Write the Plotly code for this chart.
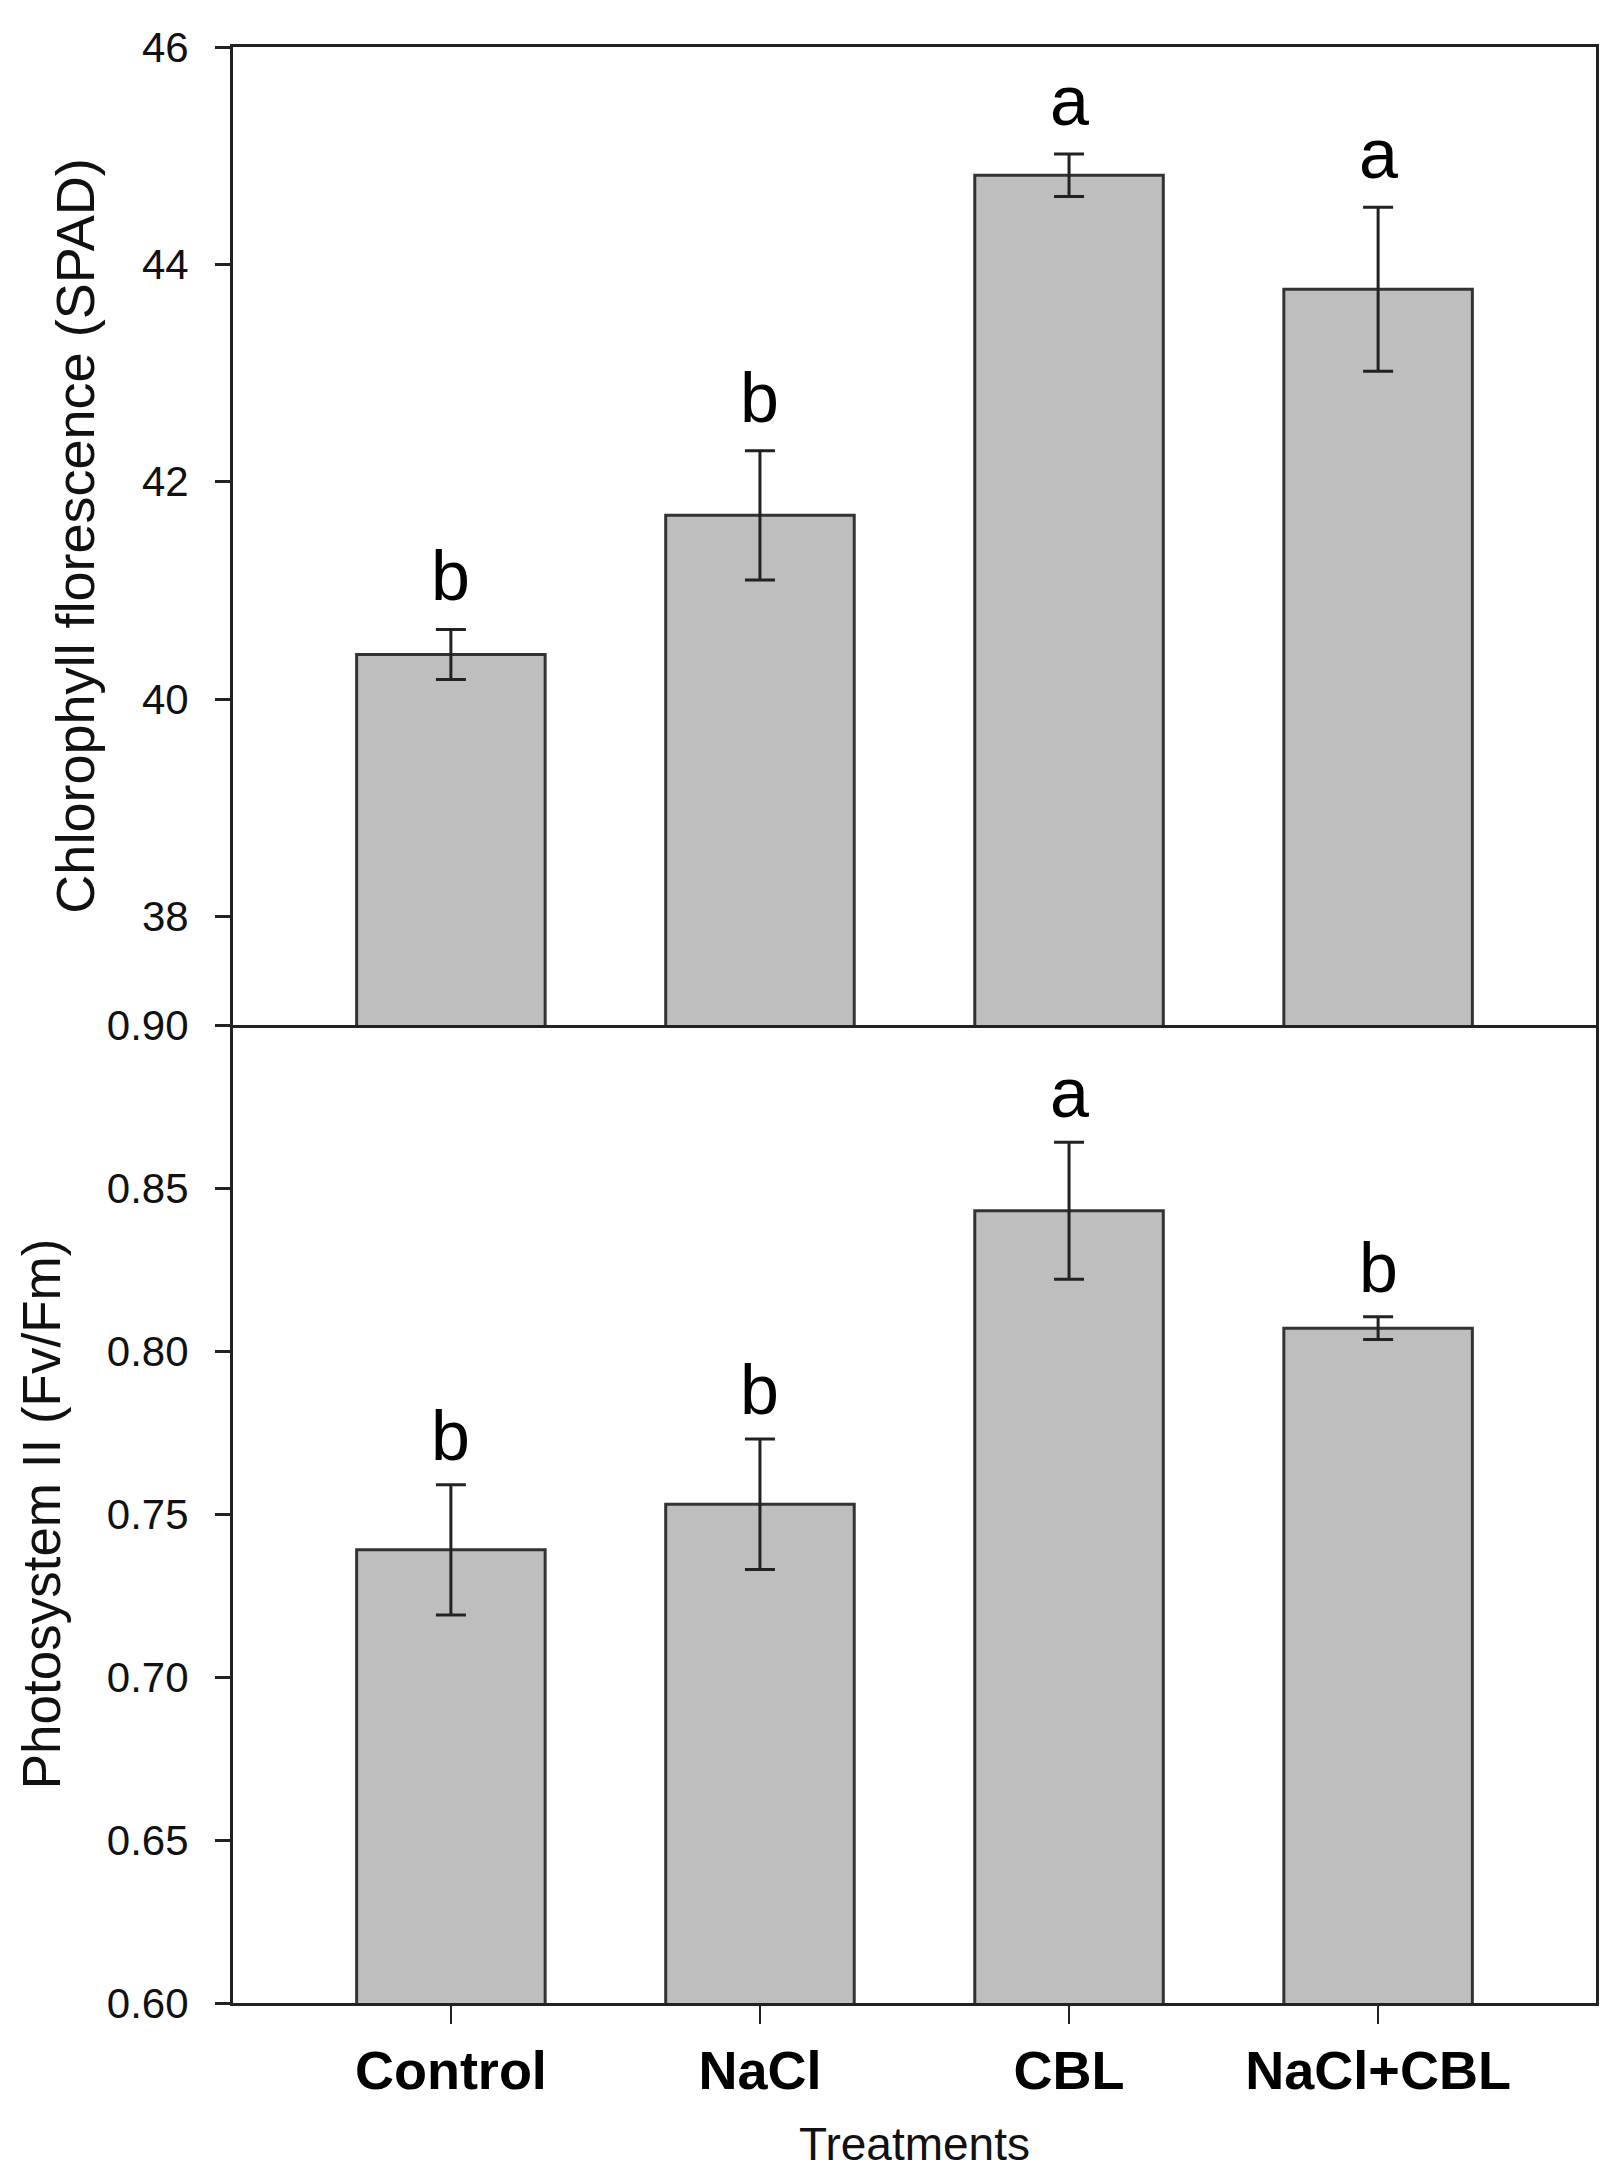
import plotly.graph_objects as go

treatments = ["Control", "NaCl", "CBL", "NaCl+CBL"]

# chlorophyll (SPAD)
spad = [40.41, 41.69, 44.82, 43.77]
spad_err = [0.23, 0.595, 0.195, 0.755]
spad_letters = ["b", "b", "a", "a"]

# photosystem II (Fv/Fm)
fvfm = [0.739, 0.753, 0.843, 0.807]
fvfm_err = [0.020, 0.020, 0.021, 0.0035]
fvfm_letters = ["b", "b", "a", "b"]

font = "Liberation Sans, Arial, sans-serif"
bar_fill = "#BEBEBE"
edge = "#333333"

fig = go.Figure()

fig.add_trace(go.Bar(
    x=treatments, y=spad, width=0.61,
    marker=dict(color=bar_fill, line=dict(color=edge, width=3)),
    error_y=dict(type="data", array=spad_err, width=15, thickness=3, color="#222222"),
    xaxis="x", yaxis="y", showlegend=False))

fig.add_trace(go.Bar(
    x=treatments, y=fvfm, width=0.61,
    marker=dict(color=bar_fill, line=dict(color=edge, width=3)),
    error_y=dict(type="data", array=fvfm_err, width=15, thickness=3, color="#222222"),
    xaxis="x2", yaxis="y2", showlegend=False))

# significance letters above error bars
annos = []
for t, v, e, lab in zip(treatments, spad, spad_err, spad_letters):
    annos.append(dict(x=t, y=v + e, xref="x", yref="y", text=lab, showarrow=False,
                      yanchor="bottom", yshift=12, font=dict(family=font, size=70, color="#000")))
for t, v, e, lab in zip(treatments, fvfm, fvfm_err, fvfm_letters):
    annos.append(dict(x=t, y=v + e, xref="x2", yref="y2", text=lab, showarrow=False,
                      yanchor="bottom", yshift=8, font=dict(family=font, size=70, color="#000")))

axis_line = dict(showline=True, linecolor="#222222", linewidth=3,
                 showgrid=False, zeroline=False)

fig.update_layout(
    width=1623, height=2180,
    margin=dict(l=225, r=35, t=39, b=185),
    plot_bgcolor="white", paper_bgcolor="white",
    font=dict(family=font, color="#111"),
    annotations=annos,
    xaxis=dict(axis_line, mirror=True, anchor="y", domain=[0, 1], range=[-0.705, 3.705],
               showticklabels=False, ticks=""),
    xaxis2=dict(axis_line, mirror=False, anchor="y2", domain=[0, 1], range=[-0.705, 3.705],
                ticks="outside", ticklen=18, tickwidth=2, tickcolor="#222",
                tickfont=dict(family=font, size=54, weight="bold", color="#000"),
                title=dict(text="Treatments", font=dict(family=font, size=46, color="#111"),
                           standoff=30)),
    yaxis=dict(axis_line, mirror=True, anchor="x", domain=[0.5, 1], range=[37, 46],
               tickvals=[38, 40, 42, 44, 46], ticks="outside", ticklen=15, tickwidth=3,
               ticklabelstandoff=18,
               tickcolor="#222", tickfont=dict(family=font, size=42, color="#111"),
               title=dict(text="Chlorophyll florescence (SPAD)",
                          font=dict(family=font, size=54, color="#111"), standoff=30)),
    yaxis2=dict(axis_line, mirror=True, anchor="x2", domain=[0, 0.5], range=[0.60, 0.90],
                tickvals=[0.60, 0.65, 0.70, 0.75, 0.80, 0.85, 0.90], tickformat=".2f",
                ticks="outside", ticklen=15, tickwidth=3, tickcolor="#222",
                ticklabelstandoff=18,
                tickfont=dict(family=font, size=42, color="#111"),
                title=dict(text="Photosystem II (Fv/Fm)",
                           font=dict(family=font, size=53, color="#111"), standoff=30)),
)

fig.write_html("out.html")
